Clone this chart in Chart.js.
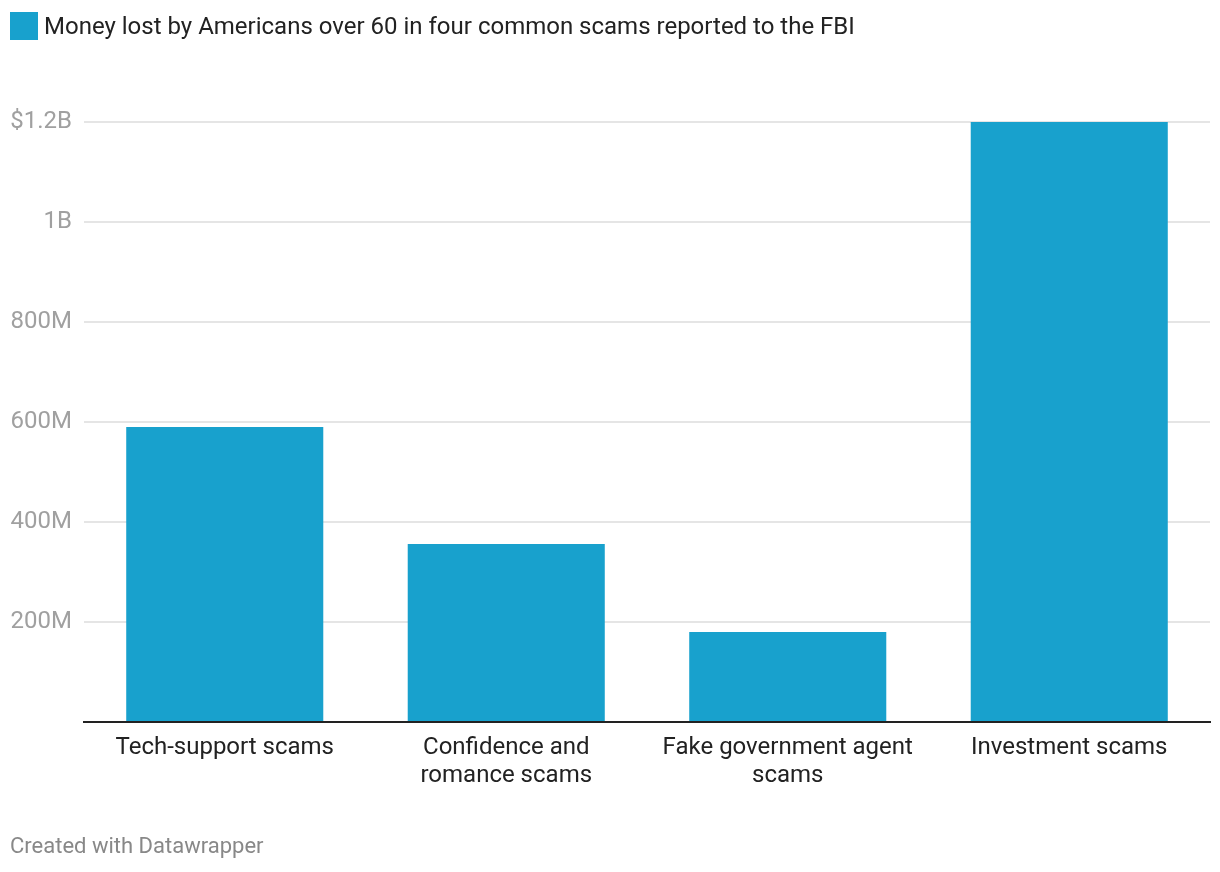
<!DOCTYPE html>
<html>
<head>
<meta charset="utf-8">
<script src="https://cdn.jsdelivr.net/npm/chart.js@4"></script>
<style>
  html, body { margin: 0; padding: 0; background: #fff; }
  #wrap { position: relative; width: 1220px; height: 872px; }
  #c { position: absolute; left: 0; top: 0; }
  #legend { position: absolute; left: 10px; top: 12px; height: 28px; display: flex; align-items: center; font-family: Roboto, sans-serif; font-size: 24px; color: #222; white-space: nowrap; }
  #legend .sw { width: 28px; height: 28px; background: #18a1cd; margin-right: 6px; flex: none; }
  #footer { position: absolute; left: 10px; top: 833px; font-family: Roboto, sans-serif; font-size: 22px; color: #888; }
</style>
</head>
<body>
<div id="wrap">
  <canvas id="c" width="1220" height="872"></canvas>
  <div id="legend"><span class="sw"></span><span id="legendText"></span></div>
  <div id="footer">Created with Datawrapper</div>
</div>
<script>
const categories = ["Tech-support scams", ["Confidence and", "romance scams"], ["Fake government agent", "scams"], "Investment scams"];
const seriesName = "Money lost by Americans over 60 in four common scams reported to the FBI";
const moneyLost = [590000000, 356000000, 180000000, 1200000000];
const yTicks = { 0: "", 200000000: "200M", 400000000: "400M", 600000000: "600M", 800000000: "800M", 1000000000: "1B", 1200000000: "$1.2B" };

document.getElementById('legendText').textContent = seriesName;

new Chart(document.getElementById('c'), {
  type: 'bar',
  data: {
    labels: categories,
    datasets: [{
      label: seriesName,
      data: moneyLost,
      backgroundColor: '#18a1cd',
      barPercentage: 0.7,
      categoryPercentage: 1.0
    }]
  },
  options: {
    responsive: false,
    animation: false,
    layout: { padding: { top: 122, left: 0, right: 10, bottom: 72 } },
    plugins: {
      tooltip: { enabled: false },
      legend: { display: false }
    },
    scales: {
      x: {
        grid: { display: false },
        border: { display: true, color: '#222', width: 2 },
        ticks: {
          color: '#222',
          font: { family: 'Roboto', size: 24, lineHeight: 1.17 },
          padding: 4,
          maxRotation: 0,
          autoSkip: false
        },
        afterFit(scale) { scale.height = 78; }
      },
      y: {
        min: 0,
        max: 1200000000,
        border: { display: false },
        grid: { color: '#e5e5e5', lineWidth: 2, drawTicks: false },
        ticks: {
          stepSize: 200000000,
          color: '#a0a0a0',
          padding: 12,
          font: { family: 'Roboto', size: 24 },
          callback: (v) => (yTicks[v] !== undefined ? yTicks[v] : v)
        },
        afterFit(scale) { scale.width = 84; }
      }
    }
  }
});
</script>
</body>
</html>
